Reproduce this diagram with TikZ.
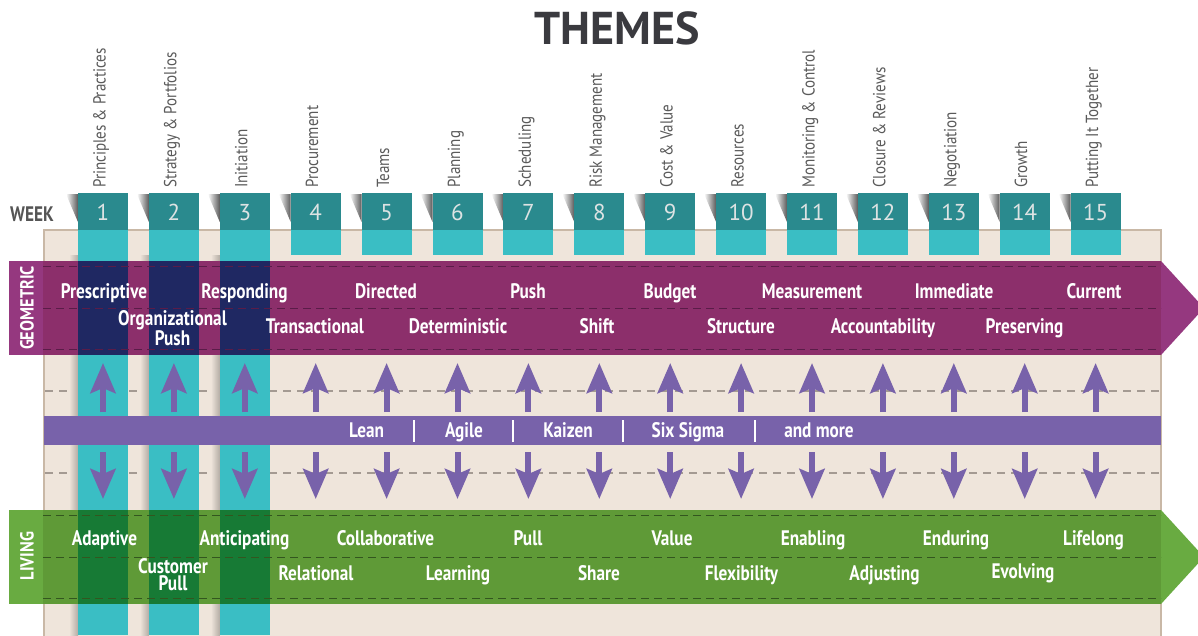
\documentclass[tikz,border=0pt]{standalone}
\usepackage{fontspec}
\setmainfont{PT Sans}[FakeStretch=0.82]
\newfontfamily\titlefont{PT Sans}
\newfontfamily\themefont{PT Sans}[FakeStretch=0.86]
\usetikzlibrary{arrows.meta}
\definecolor{tealdark}{HTML}{2A8A8E}
\definecolor{cyancol}{HTML}{3ABEC4}
\definecolor{beige}{HTML}{EFE5DB}
\definecolor{beigeborder}{HTML}{C9B8A6}
\definecolor{geoband}{HTML}{8C2F6B}
\definecolor{geolabel}{HTML}{95387F}
\definecolor{navycol}{HTML}{1F2862}
\definecolor{purpband}{HTML}{7862AA}
\definecolor{greenband}{HTML}{5F9A37}
\definecolor{greenlabel}{HTML}{69AB41}
\definecolor{darkgreen}{HTML}{177A35}
\definecolor{geodash}{HTML}{5A1C48}
\definecolor{greendash}{HTML}{33561F}
\definecolor{graydash}{HTML}{A49A92}
\definecolor{numtext}{HTML}{DDE3E3}
\definecolor{weektext}{HTML}{555555}
\definecolor{themegray}{HTML}{5A5A5A}
\definecolor{titlegray}{HTML}{3A3A3F}
\tikzset{
  lab/.style={text=white, font=\bfseries\fontsize{21}{21}\selectfont, inner sep=0pt, anchor=base},
  twolab/.style={text=white, font=\bfseries\fontsize{21}{16.5}\selectfont, inner sep=0pt, align=center, anchor=center},
  themelab/.style={rotate=90, anchor=mid west, inner sep=0pt, text=themegray, font=\themefont\fontsize{17.5}{17.5}\selectfont},
  numlab/.style={text=numtext, font=\titlefont\fontsize{23}{23}\selectfont, inner sep=0pt, anchor=base},
  sidelab/.style={rotate=90, text=white, font=\themefont\bfseries\fontsize{19}{19}\selectfont, inner sep=0pt},
  banddash/.style={dashed, dash pattern=on 8pt off 5pt, line width=0.9pt},
  middash/.style={graydash, dash pattern=on 8pt off 6pt, line width=1.2pt},
  bigarrow/.style={purpband, line width=6pt, -{Stealth[length=30pt, width=25pt, inset=5pt]}},
  sepbar/.style={white, line width=2pt}
}
\begin{document}
\begin{tikzpicture}[x=1pt,y=-1pt]
\useasboundingbox (0,0) rectangle (1198,635);
\clip (0,0) rectangle (1198,635);
\fill[white] (0,0) rectangle (1198,635);

% title and week label
\node[anchor=base, inner sep=0pt, text=titlegray, font=\titlefont\bfseries\fontsize{46}{46}\selectfont] (title) at (617,44) {THEMES};
\node[anchor=base west, inner sep=0pt, text=weektext, font=\bfseries\fontsize{21}{21}\selectfont] (week) at (10,221) {WEEK};

% beige panel
\fill[beige] (44,230) rectangle (1161,640);
\draw[beigeborder, line width=2pt] (44,640) -- (44,230) -- (1161,230) -- (1161,640);

% grey dashed guide lines
\draw[middash] (45,391) -- (1160,391);
\draw[middash] (45,473) -- (1160,473);

% shadows of the first three columns
\foreach \i in {1,2,3} {
  \pgfmathsetmacro\L{103+70.9*(\i-1)-25}
  \shade[left color=beige, right color=black!25!beige] (\L-9,255) rectangle (\L,635);
}

% week boxes
\foreach \i in {1,...,15} {
  \pgfmathsetmacro\L{103+70.9*(\i-1)-25}
  \shade[left color=white, right color=black!65] (\L-12,194) -- (\L,194) -- (\L,222) -- cycle;
  \fill[tealdark] (\L,193) rectangle (\L+50,230);
  \ifnum\i<4
    \fill[cyancol] (\L,230) rectangle (\L+50,635);
  \else
    \fill[cyancol] (\L,230) rectangle (\L+50,255);
  \fi
}

% week numbers and theme names
\foreach \i/\t in {1/Principles \& Practices, 2/Strategy \& Portfolios, 3/Initiation, 4/Procurement, 5/Teams, 6/Planning, 7/Scheduling, 8/Risk Management, 9/Cost \& Value, 10/Resources, 11/Monitoring \& Control, 12/Closure \& Reviews, 13/Negotiation, 14/Growth, 15/Putting It Together} {
  \pgfmathsetmacro\c{103+70.9*(\i-1)}
  \node[numlab] (num\i) at (\c,220) {\i};
  \node[themelab] (theme\i) at (\c,188) {\t};
}

% GEOMETRIC band
\fill[geoband] (43,261) rectangle (1161,355);
\fill[geolabel] (1161,261) -- (1204,308) -- (1161,355) -- cycle;
\fill[geolabel] (9,261) rectangle (43,355);
\foreach \i in {1,2,3} {
  \pgfmathsetmacro\L{103+70.9*(\i-1)-25}
  \fill[navycol] (\L,261) rectangle (\L+50,355);
}
\draw[banddash, geodash] (43,266) -- (1161,266);
\draw[banddash, geodash] (43,308) -- (1161,308);
\draw[banddash, geodash] (43,349) -- (1161,349);
\node[sidelab] (geo) at (27,308) {GEOMETRIC};

% method band
\fill[purpband] (44,416) rectangle (1161,445);

% arrows
\foreach \i in {1,...,15} {
  \pgfmathsetmacro\c{103+70.9*(\i-1)}
  \coordinate (ub\i) at (\c,412);
  \coordinate (ut\i) at (\c,363);
  \coordinate (db\i) at (\c,452);
  \coordinate (dt\i) at (\c,499);
  \draw[bigarrow] (ub\i) -- (ut\i);
  \draw[bigarrow] (db\i) -- (dt\i);
}

% LIVING band
\fill[greenband] (43,510) rectangle (1161,604);
\fill[greenlabel] (1161,510) -- (1204,557) -- (1161,604) -- cycle;
\fill[greenlabel] (9,510) rectangle (43,604);
\foreach \i in {1,2,3} {
  \pgfmathsetmacro\L{103+70.9*(\i-1)-25}
  \fill[darkgreen] (\L,510) rectangle (\L+50,604);
}
\draw[banddash, greendash] (43,515) -- (1161,515);
\draw[banddash, greendash] (43,557) -- (1161,557);
\draw[banddash, greendash] (43,598) -- (1161,598);
\node[sidelab] (liv) at (27,556) {LIVING};

% geometric texts
\foreach \x/\t [count=\k] in {104/Prescriptive, 244.5/Responding, 386/Directed, 528/Push, 670/Budget, 812/Measurement, 954/Immediate, 1094/Current}
  \node[lab] (g1-\k) at (\x,298) {\t};
\foreach \x/\t [count=\k] in {315/Transactional, 458/Deterministic, 597/Shift, 741/Structure, 883/Accountability, 1024.5/Preserving}
  \node[lab] (g2-\k) at (\x,333) {\t};
\node[twolab] (org) at (172.5,328) {Organizational\\Push};

% method texts
\foreach \x/\t [count=\k] in {366.5/Lean, 464/Agile, 568/Kaizen, 688/Six Sigma, 819/and more}
  \node[lab] (m\k) at (\x,437) {\t};
\foreach \x [count=\k] in {414,513,623,755} {
  \coordinate (sa\k) at (\x,420);
  \coordinate (sb\k) at (\x,442);
  \draw[sepbar] (sa\k) -- (sb\k);
}

% living texts
\foreach \x/\t [count=\k] in {104.5/Adaptive, 244.5/Anticipating, 385.5/Collaborative, 528/Pull, 672/Value, 813/Enabling, 956/Enduring, 1093.5/Lifelong}
  \node[lab] (l1-\k) at (\x,545) {\t};
\foreach \x/\t [count=\k] in {316/Relational, 458/Learning, 599/Share, 741.5/Flexibility, 884.5/Adjusting}
  \node[lab] (l2-\k) at (\x,580) {\t};
\node[lab] (evol) at (1023,578) {Evolving};
\node[twolab, font=\bfseries\fontsize{21}{17}\selectfont] (cust) at (173,575) {Customer\\Pull};
\end{tikzpicture}
\end{document}
